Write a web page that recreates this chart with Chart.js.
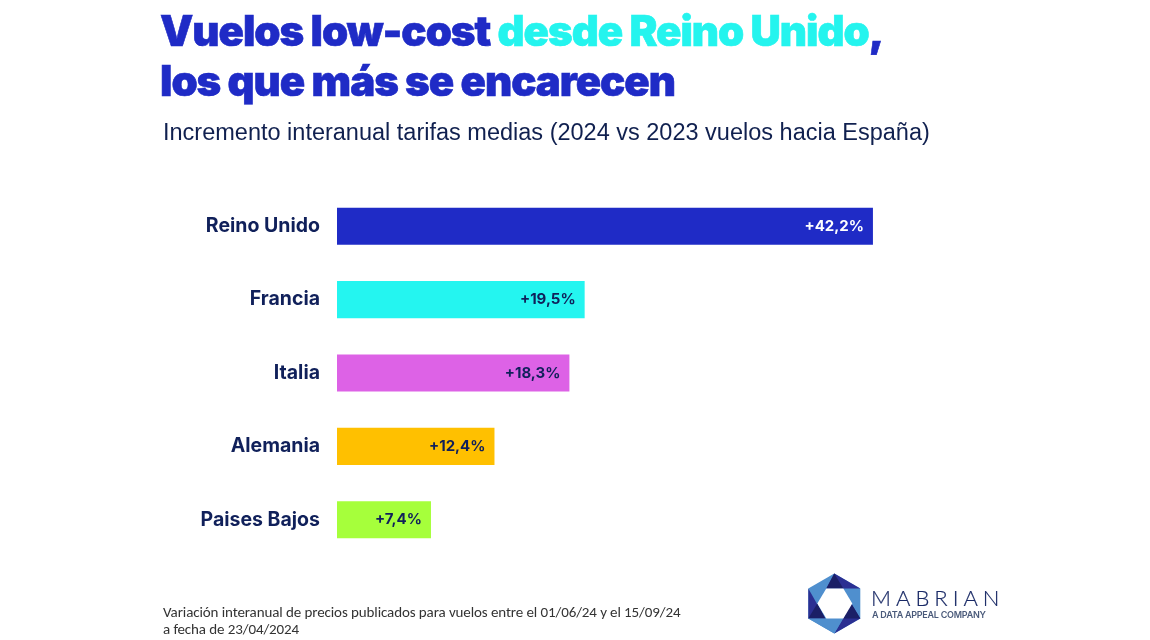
<!DOCTYPE html>
<html lang="es"><head><meta charset="utf-8">
<style>
html,body{margin:0;padding:0;background:#fff;width:1150px;height:640px;overflow:hidden}
#wrap{position:relative;width:1150px;height:640px}
canvas{position:absolute;left:0;top:0}
.t{position:absolute;white-space:nowrap}
.h{font-family:Inter,sans-serif;font-weight:900;font-size:42px;letter-spacing:-1.05px;color:#1f2bc6;left:160px;line-height:50px;-webkit-text-stroke:.6px currentColor}
</style></head><body>
<div id="wrap">
<canvas id="c" width="1150" height="640"></canvas>
<div class="t h" style="top:6px">Vuelos low-cost <span style="color:#24f4ee">desde Reino Unido</span>,</div>
<div class="t h" style="top:56px">los que más se encarecen</div>
<div class="t" style="left:163px;top:119px;font:23.5px 'Liberation Sans',sans-serif;color:#10204f">Incremento interanual tarifas medias (2024 vs 2023 vuelos hacia España)</div>
<div class="t" style="left:163px;top:604px;font:15px/17px Carlito,'Open Sans',sans-serif;letter-spacing:-.1px;color:#333">Variación interanual de precios publicados para vuelos entre el 01/06/24 y el 15/09/24<br>a fecha de 23/04/2024</div>
<svg class="t" style="left:800px;top:568px" width="70" height="70" viewBox="-34.3 -35.5 70 70">
<polygon points="0,-30 26,-15 26,15 0,30 -26,15 -26,-15" fill="#4f8fce"/>
<polygon points="0,-30 26,-15 -8,-15" fill="#2b2f92"/>
<polygon points="0,-30 9,-15 -8,-15" fill="#1b1f66"/>
<polygon points="26,15 0,30 17,0" fill="#2b2f92"/>
<polygon points="26,15 9,15 17,0" fill="#1b1f66"/>
<polygon points="-26,15 -26,-15 -9,15" fill="#2b2f92"/>
<polygon points="-26,15 -17,0 -9,15" fill="#1b1f66"/>
<polygon points="0,30 -26,15 -9,15 9,15" fill="#4f8fce"/>
<polygon points="-8,-15 9,-15 18,0 9,15 -8,15 -17,0" fill="#fff"/>
</svg>
<div class="t" style="left:871px;top:584px;font:300 22px Lato,sans-serif;letter-spacing:5px;color:#1a2a66;-webkit-text-stroke:.2px #1a2a66">MABRIAN</div>
<div class="t" style="left:872px;top:609px;font:600 9px Inter,sans-serif;letter-spacing:-.25px;color:#4a5a7a">A DATA APPEAL COMPANY</div>
</div>
<script src="https://cdn.jsdelivr.net/npm/chart.js@4"></script>
<script>
const categories = ["Reino Unido","Francia","Italia","Alemania","Paises Bajos"];
const values = [42.2,19.5,18.3,12.4,7.4];
const barColors = ["#1f2bc6","#24f5f0","#dd62e6","#ffc000","#a6ff3b"];
const valueColors = ["#ffffff","#10205a","#10205a","#10205a","#10205a"];
const navy = "#10205a";
const fontFam = "Inter, sans-serif";
const valueLabels = {
  id:"valueLabels",
  afterDatasetsDraw(chart){
    const ctx = chart.ctx, meta = chart.getDatasetMeta(0);
    ctx.save();
    ctx.font = "700 15px "+fontFam;
    ctx.textAlign = "right"; ctx.textBaseline = "middle";
    meta.data.forEach((b,i)=>{
      ctx.fillStyle = valueColors[i];
      ctx.fillText("+"+values[i].toFixed(1).replace(".",",")+"%", b.x-9, b.y);
    });
    ctx.restore();
  }
};
new Chart(document.getElementById("c"),{
  type:"bar",
  plugins:[valueLabels],
  data:{labels:categories,datasets:[{data:values,backgroundColor:barColors,borderWidth:0,barPercentage:0.505,categoryPercentage:1}]},
  options:{
    indexAxis:"y",responsive:false,animation:false,
    layout:{padding:{left:0,right:51,top:189.5,bottom:83.5}},
    plugins:{legend:{display:false},tooltip:{enabled:false},title:{display:false}},
    scales:{
      x:{display:false,min:0,max:60},
      y:{
        afterFit(s){s.width=337;},
        grid:{display:false},border:{display:false},
        ticks:{color:navy,padding:9,font:{family:fontFam,size:19.5,weight:"700"}}
      }
    }
  }
});
</script>
</body></html>
